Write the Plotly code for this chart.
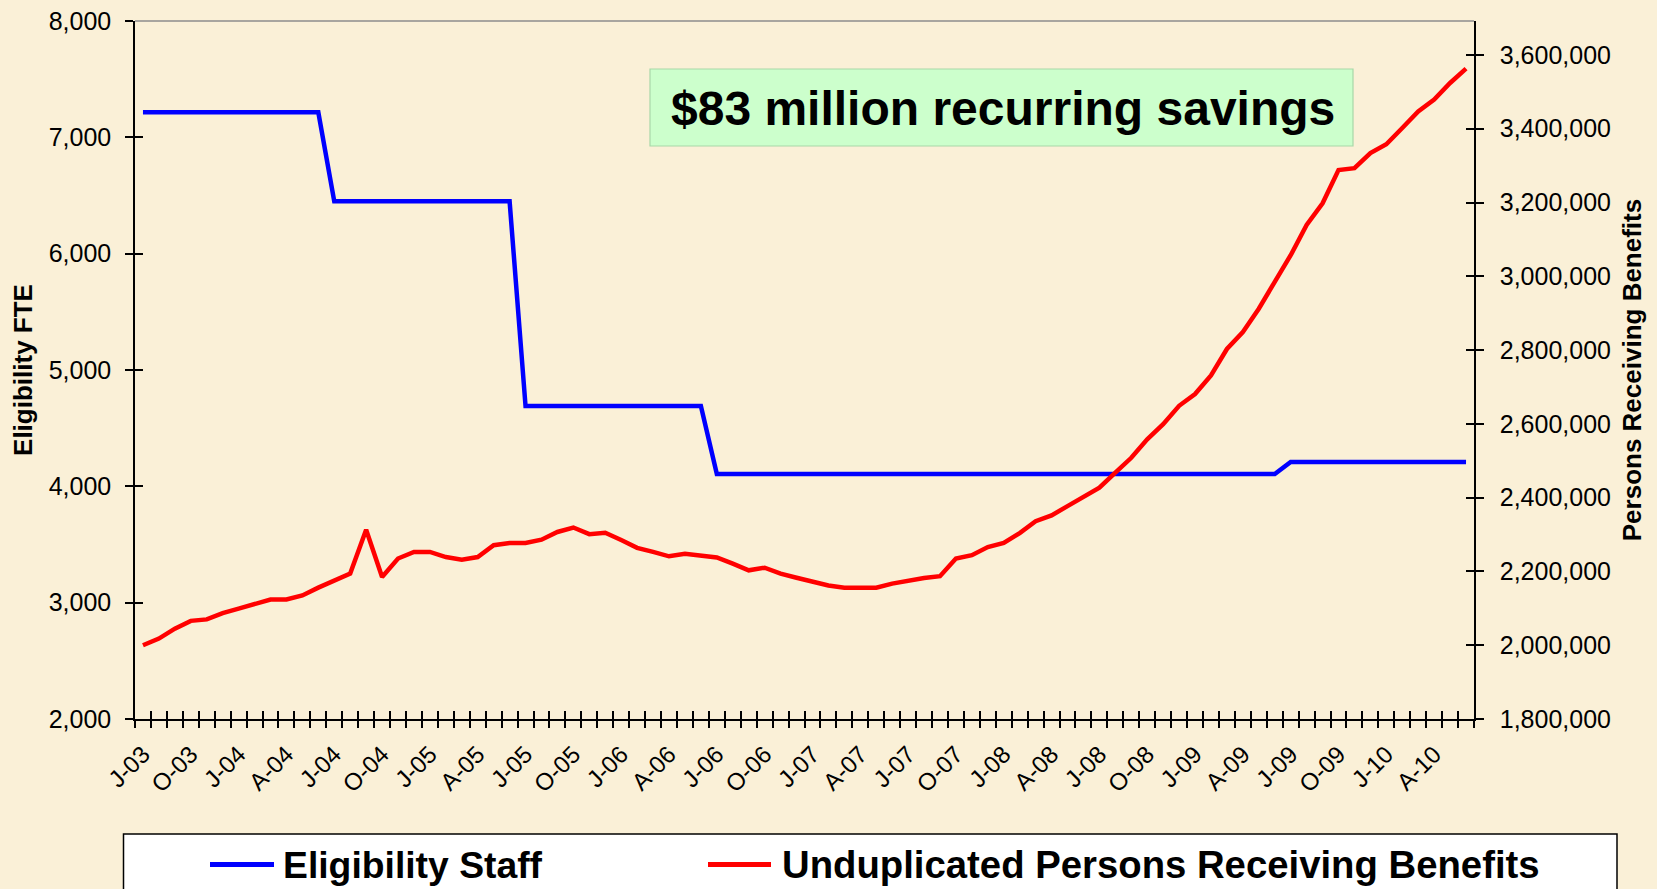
import pandas as pd
import plotly.graph_objects as go

# ---------------- data ----------------
months = pd.period_range("2003-07", "2010-06", freq="M").strftime("%b-%y").tolist()

tick_labels = ["J-03", "O-03", "J-04", "A-04", "J-04", "O-04", "J-05", "A-05", "J-05", "O-05",
               "J-06", "A-06", "J-06", "O-06", "J-07", "A-07", "J-07", "O-07", "J-08", "A-08",
               "J-08", "O-08", "J-09", "A-09", "J-09", "O-09", "J-10", "A-10"]

eligibility_staff = [
    7215, 7215, 7215, 7215, 7215, 7215, 7215, 7215, 7215, 7215, 7215, 7215,
    6450, 6450, 6450, 6450, 6450, 6450, 6450, 6450, 6450, 6450, 6450, 6450,
    4690, 4690, 4690, 4690, 4690, 4690, 4690, 4690, 4690, 4690, 4690, 4690,
    4105, 4105, 4105, 4105, 4105, 4105, 4105, 4105, 4105, 4105, 4105, 4105,
    4105, 4105, 4105, 4105, 4105, 4105, 4105, 4105, 4105, 4105, 4105, 4105,
    4105, 4105, 4105, 4105, 4105, 4105, 4105, 4105, 4105, 4105, 4105, 4105,
    4210, 4210, 4210, 4210, 4210, 4210, 4210, 4210, 4210, 4210, 4210, 4210,
]

persons_receiving = [
    2000000, 2018000, 2045000, 2066000, 2070000, 2087000, 2099000, 2110000, 2124000, 2124000,
    2135000, 2156000, 2174000, 2194000, 2313000, 2185000, 2235000, 2253000, 2253000, 2239000,
    2232000, 2239000, 2271000, 2277000, 2277000, 2286000, 2307000, 2319000, 2301000, 2305000,
    2285000, 2264000, 2253000, 2241000, 2248000, 2244000, 2238000, 2221000, 2203000, 2210000,
    2194000, 2183000, 2173000, 2162000, 2156000, 2156000, 2156000, 2167000, 2176000, 2182000,
    2187000, 2235000, 2244000, 2266000, 2277000, 2304000, 2336000, 2352000, 2377000, 2402000,
    2427000, 2468000, 2508000, 2558000, 2599000, 2649000, 2681000, 2731000, 2803000, 2849000,
    2912000, 2985000, 3057000, 3139000, 3198000, 3288000, 3293000, 3334000, 3358000, 3402000,
    3447000, 3479000, 3524000, 3563000,
]

series_names = ["Eligibility Staff", "Unduplicated Persons Receiving Benefits"]
series_colors = ["#0000FF", "#FF0000"]
left_title = "Eligibility FTE"
right_title = "Persons Receiving Benefits"
callout_text = "$83 million recurring savings"

# ---------------- figure ----------------
FONT = "Liberation Sans, Arial, Helvetica, sans-serif"
BG = "#FAF0D7"
W, H = 1657, 889
ML, MR, MT, MB = 135, 183, 21, 170
n = len(months)

fig = go.Figure()
fig.add_trace(go.Scatter(x=months, y=eligibility_staff, name=series_names[0], mode="lines",
                         line=dict(color=series_colors[0], width=4.5), xaxis="x", yaxis="y",
                         showlegend=False))
fig.add_trace(go.Scatter(x=months, y=persons_receiving, name=series_names[1], mode="lines",
                         line=dict(color=series_colors[1], width=4.5), xaxis="x", yaxis="y2",
                         showlegend=False))
# carriers for the tick-mark overlay axes (no visible marks)
fig.add_trace(go.Scatter(x=[None], y=[None], xaxis="x2", yaxis="y3", showlegend=False,
                         hoverinfo="skip", mode="lines"))
fig.add_trace(go.Scatter(x=[None], y=[None], xaxis="x3", yaxis="y4", showlegend=False,
                         hoverinfo="skip", mode="lines"))

tickfont = dict(family=FONT, size=25, color="black")
titlefont = dict(family=FONT, size=26, color="black")

fig.update_layout(
    width=W, height=H,
    margin=dict(l=ML, r=MR, t=MT, b=MB, autoexpand=False),
    paper_bgcolor=BG, plot_bgcolor="rgba(0,0,0,0)",
    font=dict(family=FONT, color="black"),
    showlegend=False,
    xaxis=dict(type="category", range=[-0.5, n - 0.5], tickmode="array",
               tickvals=months[::3], ticktext=tick_labels, tickangle=-45,
               ticks="", showline=True, linecolor="black", linewidth=1.5,
               tickfont=dict(family=FONT, size=24, color="black"),
               ticklabelstandoff=10, showgrid=False, zeroline=False),
    xaxis2=dict(overlaying="x", anchor="y", side="bottom", range=[-0.5, n - 0.5],
                tickmode="linear", tick0=-0.5, dtick=1, ticks="outside", ticklen=8,
                tickwidth=1.5, tickcolor="black", showticklabels=False, showline=False,
                showgrid=False, zeroline=False),
    xaxis3=dict(overlaying="x", anchor="y", side="bottom", range=[-0.5, n - 0.5],
                tickmode="linear", tick0=-0.5, dtick=1, ticks="inside", ticklen=8,
                tickwidth=1.5, tickcolor="black", showticklabels=False, showline=False,
                showgrid=False, zeroline=False),
    yaxis=dict(range=[2000, 8000], tickmode="linear", tick0=2000, dtick=1000,
               tickformat=",", ticks="outside", ticklen=8, tickwidth=1.5, tickcolor="black",
               showline=True, linecolor="black", linewidth=1.5, tickfont=tickfont,
               ticklabelstandoff=9, showgrid=False, zeroline=False,
               title=dict(text="<b>" + left_title + "</b>", font=titlefont, standoff=9)),
    yaxis2=dict(overlaying="y", side="right", anchor="x", range=[1800000, 3692000],
                tickmode="linear", tick0=1800000, dtick=200000, tickformat=",",
                ticks="outside", ticklen=8, tickwidth=1.5, tickcolor="black",
                showline=True, linecolor="black", linewidth=1.5, tickfont=tickfont,
                ticklabelstandoff=11, showgrid=False, zeroline=False,
                title=dict(text="<b>" + right_title + "</b>", font=titlefont, standoff=13)),
    yaxis3=dict(overlaying="y", side="left", anchor="x", range=[2000, 8000],
                tickmode="linear", tick0=2000, dtick=1000, ticks="inside", ticklen=8,
                tickwidth=1.5, tickcolor="black", showticklabels=False, showline=False,
                showgrid=False, zeroline=False),
    yaxis4=dict(overlaying="y", side="right", anchor="x", range=[1800000, 3692000],
                tickmode="linear", tick0=1800000, dtick=200000, ticks="inside", ticklen=8,
                tickwidth=1.5, tickcolor="black", showticklabels=False, showline=False,
                showgrid=False, zeroline=False),
)

PW = W - ML - MR
PH = H - MT - MB


def px_x(px):
    return (px - ML) / PW


def px_y(py):
    return (H - MB - py) / PH


shapes = [
    # grey plot-area top border
    dict(type="line", xref="paper", yref="paper", x0=0, x1=1, y0=1, y1=1,
         line=dict(color="#8C8C8C", width=1.5)),
    # callout box
    dict(type="rect", xref="paper", yref="paper", x0=px_x(650), x1=px_x(1353),
         y0=px_y(146), y1=px_y(69), fillcolor="#CCFFCC", line=dict(color="#A8D8A8", width=1.2),
         layer="below"),
    # legend frame
    dict(type="rect", xref="paper", yref="paper", x0=px_x(123.5), x1=px_x(1617),
         y0=px_y(905), y1=px_y(834), fillcolor="white", line=dict(color="black", width=1.5)),
    # legend samples
    dict(type="line", xref="paper", yref="paper", x0=px_x(210), x1=px_x(274),
         y0=px_y(864.5), y1=px_y(864.5), line=dict(color=series_colors[0], width=5)),
    dict(type="line", xref="paper", yref="paper", x0=px_x(708), x1=px_x(771),
         y0=px_y(864.5), y1=px_y(864.5), line=dict(color=series_colors[1], width=5)),
]

annotations = [
    dict(text="<b>" + callout_text + "</b>", xref="paper", yref="paper",
         x=px_x(1002.5), y=px_y(108.5), xanchor="center", yanchor="middle", showarrow=False,
         font=dict(family=FONT, size=48, color="black")),
    dict(text="<b>" + series_names[0] + "</b>", xref="paper", yref="paper",
         x=px_x(281), y=px_y(864.5), xanchor="left", yanchor="middle", showarrow=False,
         font=dict(family=FONT, size=37.3, color="black")),
    dict(text="<b>" + series_names[1] + "</b>", xref="paper", yref="paper",
         x=px_x(780), y=px_y(864.5), xanchor="left", yanchor="middle", showarrow=False,
         font=dict(family=FONT, size=38.3, color="black")),
]

fig.update_layout(shapes=shapes, annotations=annotations)

page_js = ("document.body.style.margin='0';document.body.style.padding='0';"
           "document.body.style.overflow='hidden';"
           "document.body.style.background='" + BG + "';")
fig.write_html("out.html", post_script=page_js, config={"displayModeBar": False})
